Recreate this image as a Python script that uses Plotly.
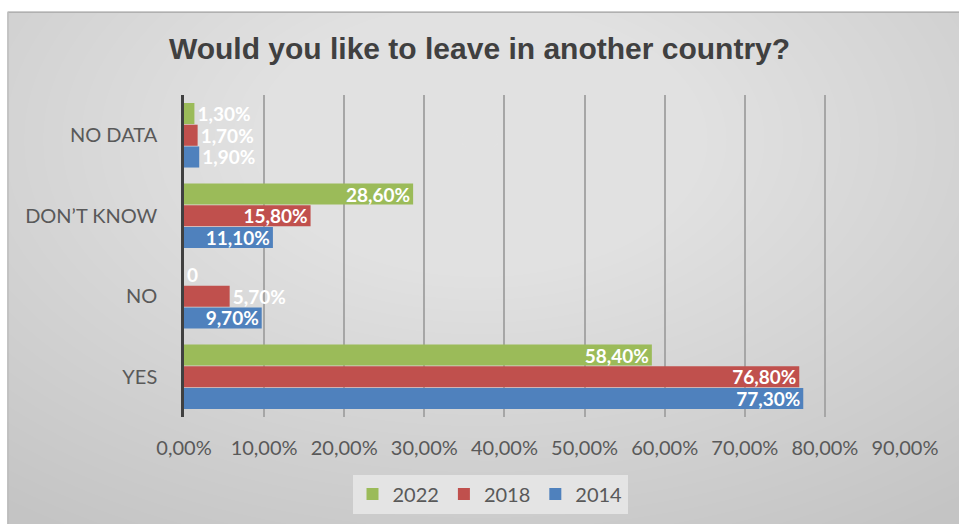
import plotly.graph_objects as go

categories = ["YES", "NO", "DON’T KNOW", "NO DATA"]
years = ["2014", "2018", "2022"]
values_2014 = [0.773, 0.097, 0.111, 0.019]
values_2018 = [0.768, 0.057, 0.158, 0.017]
values_2022 = [0.584, 0.0, 0.286, 0.013]
labels_2014 = ["77,30%", "9,70%", "11,10%", "1,90%"]
labels_2018 = ["76,80%", "5,70%", "15,80%", "1,70%"]
labels_2022 = ["58,40%", "0", "28,60%", "1,30%"]
x_ticks = [0, 0.1, 0.2, 0.3, 0.4, 0.5, 0.6, 0.7, 0.8, 0.9]
x_tick_text = ["0,00%", "10,00%", "20,00%", "30,00%", "40,00%", "50,00%",
               "60,00%", "70,00%", "80,00%", "90,00%"]

colors = {"2014": "#4f81bd", "2018": "#c0504d", "2022": "#9bbb59"}
series = {"2014": (values_2014, labels_2014),
          "2018": (values_2018, labels_2018),
          "2022": (values_2022, labels_2022)}

W, H = 959, 524
L, R, T, B = 184, 905, 95, 418


def px(x):
    return (x - L) / (R - L)


def py(y):
    return (B - y) / (B - T)


lab_font = dict(color="white", family="Lato", size=19, weight="bold")

fig = go.Figure()
for yr in years:
    vals, labs = series[yr]
    pos = ["inside" if v >= 0.09 else "outside" for v in vals]
    fig.add_trace(go.Bar(
        y=categories, x=vals, name=yr, orientation="h",
        marker=dict(color=colors[yr], line=dict(width=0)),
        text=labs, textposition=pos, insidetextanchor="end",
        textfont=lab_font, outsidetextfont=lab_font, insidetextfont=lab_font,
        constraintext="none", cliponaxis=False,
    ))

shapes = [dict(type="rect", xref="paper", yref="paper", layer="below",
               x0=px(8), x1=px(W + 5), y0=py(12), y1=py(H + 5),
               fillcolor="#c4c4c4", line=dict(color="#b0b0b0", width=1.5))]
cx, cy = 480, 140
n = 40
for i in range(n):
    f = 1 - i / n
    rx, ry = 760 * f, 460 * f
    shapes.append(dict(type="circle", xref="paper", yref="paper", layer="below",
                       x0=px(cx - rx), x1=px(cx + rx), y0=py(cy + ry), y1=py(cy - ry),
                       fillcolor="white", opacity=0.032, line=dict(width=0)))
shapes.append(dict(type="rect", xref="paper", yref="paper", layer="below",
                   x0=px(-5), x1=px(W + 5), y0=py(11), y1=py(-5),
                   fillcolor="white", line=dict(width=0)))
shapes.append(dict(type="rect", xref="paper", yref="paper", layer="below",
                   x0=px(-5), x1=px(7), y0=py(-5), y1=py(H + 5),
                   fillcolor="white", line=dict(width=0)))
shapes.append(dict(type="line", xref="paper", yref="paper", layer="below",
                   x0=px(8), x1=px(W + 5), y0=py(12), y1=py(12),
                   line=dict(color="#b0b0b0", width=1.5)))
shapes.append(dict(type="line", xref="paper", yref="paper", layer="below",
                   x0=px(8), x1=px(8), y0=py(12), y1=py(H + 5),
                   line=dict(color="#c0c0c0", width=1.5)))

fig.update_layout(
    width=W, height=H,
    margin=dict(l=L, r=W - R, t=T, b=H - B, pad=0),
    paper_bgcolor="white", plot_bgcolor="rgba(0,0,0,0)",
    barmode="group", bargap=0.19, bargroupgap=0.03,
    title=dict(text="<b>Would you like to leave in another country?</b>",
               x=0.5, xanchor="center", y=1 - 48 / H, yanchor="middle",
               font=dict(family="Liberation Sans", size=30, color="#404040")),
    xaxis=dict(range=[0, 0.9], tickvals=x_ticks, ticktext=x_tick_text,
               showgrid=True, gridcolor="#a6a6a6", gridwidth=1.5,
               zeroline=False, showline=False, ticks="",
               tickfont=dict(family="Lato", size=20, color="#595959"),
               ticklabelstandoff=17, fixedrange=True),
    yaxis=dict(categoryorder="array", categoryarray=categories,
               showgrid=False, showline=True, linecolor="#404040", linewidth=2.5,
               ticks="", tickfont=dict(family="Lato", size=20, color="#595959"),
               ticklabelstandoff=20, fixedrange=True),
    legend=dict(orientation="h", traceorder="reversed", x=px(490), xanchor="center",
                y=py(494), yanchor="middle", bgcolor="#e4e4e4",
                font=dict(family="Lato", size=20, color="#595959"),
                itemwidth=30, itemsizing="constant"),
    shapes=shapes,
    showlegend=True,
)

fig.write_html("out.html")
